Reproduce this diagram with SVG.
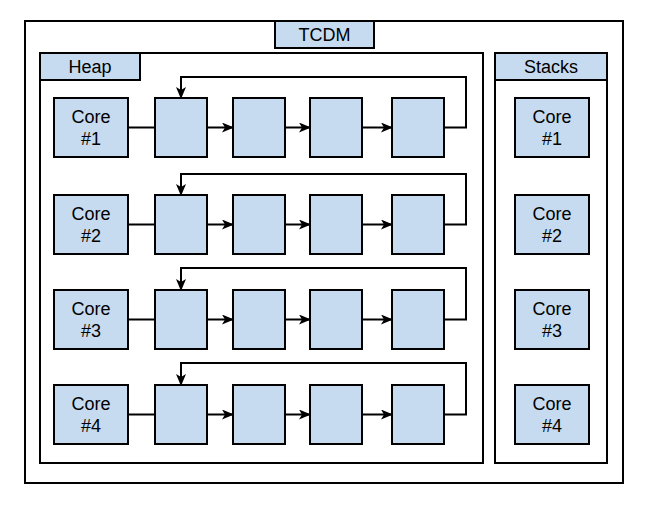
<svg xmlns="http://www.w3.org/2000/svg" width="649" height="507" viewBox="0 0 649 507">
<defs>
<style>
.c{fill:none;stroke:#000;stroke-width:2}
.b{fill:#c6dbef;stroke:#000;stroke-width:2}
.w{fill:#fff;stroke:#000;stroke-width:2}
.l{fill:none;stroke:#000;stroke-width:2}
text{font-family:"Liberation Sans",Arial,sans-serif;font-size:18px;fill:#000;text-anchor:middle}
</style>
<marker id="ar" viewBox="0 0 12 10" refX="11" refY="5" markerWidth="12" markerHeight="10" markerUnits="userSpaceOnUse" orient="auto">
<path d="M0,0 L12,5 L0,10 L3,5 Z" fill="#000"/>
</marker>
</defs>
<rect width="649" height="507" fill="#fff"/>
<g id="tcdm">
<rect class="w" x="25" y="21" width="598" height="462"/>
<rect class="b" x="275" y="21" width="99" height="27"/>
<text x="324.5" y="41">TCDM</text>
</g>
<g id="heap">
<rect class="w" x="40" y="53" width="443" height="410"/>
<rect class="b" x="40" y="53" width="100" height="27"/>
<text x="90" y="73">Heap</text>
</g>
<g id="stacks">
<rect class="w" x="495" y="53" width="112" height="410"/>
<rect class="b" x="495" y="53" width="112" height="27"/>
<text x="551" y="73">Stacks</text>
</g>
<g id="connectors">
<path class="l" d="M128,127.5 H155"/>
<path class="l" d="M207,127.5 H233" marker-end="url(#ar)"/>
<path class="l" d="M285,127.5 H310" marker-end="url(#ar)"/>
<path class="l" d="M362,127.5 H392" marker-end="url(#ar)"/>
<path class="l" d="M444,127.5 H466 V77 H181 V98" marker-end="url(#ar)"/>
<path class="l" d="M128,224.5 H155"/>
<path class="l" d="M207,224.5 H233" marker-end="url(#ar)"/>
<path class="l" d="M285,224.5 H310" marker-end="url(#ar)"/>
<path class="l" d="M362,224.5 H392" marker-end="url(#ar)"/>
<path class="l" d="M444,224.5 H466 V174 H181 V195" marker-end="url(#ar)"/>
<path class="l" d="M128,319.5 H155"/>
<path class="l" d="M207,319.5 H233" marker-end="url(#ar)"/>
<path class="l" d="M285,319.5 H310" marker-end="url(#ar)"/>
<path class="l" d="M362,319.5 H392" marker-end="url(#ar)"/>
<path class="l" d="M444,319.5 H466 V268 H181 V290" marker-end="url(#ar)"/>
<path class="l" d="M128,414.5 H155"/>
<path class="l" d="M207,414.5 H233" marker-end="url(#ar)"/>
<path class="l" d="M285,414.5 H310" marker-end="url(#ar)"/>
<path class="l" d="M362,414.5 H392" marker-end="url(#ar)"/>
<path class="l" d="M444,414.5 H466 V363 H181 V385" marker-end="url(#ar)"/>
</g>
<g id="heap-core1"><rect class="b" x="54" y="98" width="74" height="59"/><text x="91" y="123">Core</text><text x="91" y="145">#1</text></g>
<g id="h1a"><rect class="b" x="155" y="98" width="52" height="59"/></g>
<g id="h1b"><rect class="b" x="233" y="98" width="52" height="59"/></g>
<g id="h1c"><rect class="b" x="310" y="98" width="52" height="59"/></g>
<g id="h1d"><rect class="b" x="392" y="98" width="52" height="59"/></g>
<g id="heap-core2"><rect class="b" x="54" y="195" width="74" height="59"/><text x="91" y="220">Core</text><text x="91" y="242">#2</text></g>
<g id="h2a"><rect class="b" x="155" y="195" width="52" height="59"/></g>
<g id="h2b"><rect class="b" x="233" y="195" width="52" height="59"/></g>
<g id="h2c"><rect class="b" x="310" y="195" width="52" height="59"/></g>
<g id="h2d"><rect class="b" x="392" y="195" width="52" height="59"/></g>
<g id="heap-core3"><rect class="b" x="54" y="290" width="74" height="59"/><text x="91" y="315">Core</text><text x="91" y="337">#3</text></g>
<g id="h3a"><rect class="b" x="155" y="290" width="52" height="59"/></g>
<g id="h3b"><rect class="b" x="233" y="290" width="52" height="59"/></g>
<g id="h3c"><rect class="b" x="310" y="290" width="52" height="59"/></g>
<g id="h3d"><rect class="b" x="392" y="290" width="52" height="59"/></g>
<g id="heap-core4"><rect class="b" x="54" y="385" width="74" height="59"/><text x="91" y="410">Core</text><text x="91" y="432">#4</text></g>
<g id="h4a"><rect class="b" x="155" y="385" width="52" height="59"/></g>
<g id="h4b"><rect class="b" x="233" y="385" width="52" height="59"/></g>
<g id="h4c"><rect class="b" x="310" y="385" width="52" height="59"/></g>
<g id="h4d"><rect class="b" x="392" y="385" width="52" height="59"/></g>
<g id="stack-core1"><rect class="b" x="515" y="98" width="74" height="59"/><text x="552" y="123">Core</text><text x="552" y="145">#1</text></g>
<g id="stack-core2"><rect class="b" x="515" y="195" width="74" height="59"/><text x="552" y="220">Core</text><text x="552" y="242">#2</text></g>
<g id="stack-core3"><rect class="b" x="515" y="290" width="74" height="59"/><text x="552" y="315">Core</text><text x="552" y="337">#3</text></g>
<g id="stack-core4"><rect class="b" x="515" y="385" width="74" height="59"/><text x="552" y="410">Core</text><text x="552" y="432">#4</text></g>
</svg>
